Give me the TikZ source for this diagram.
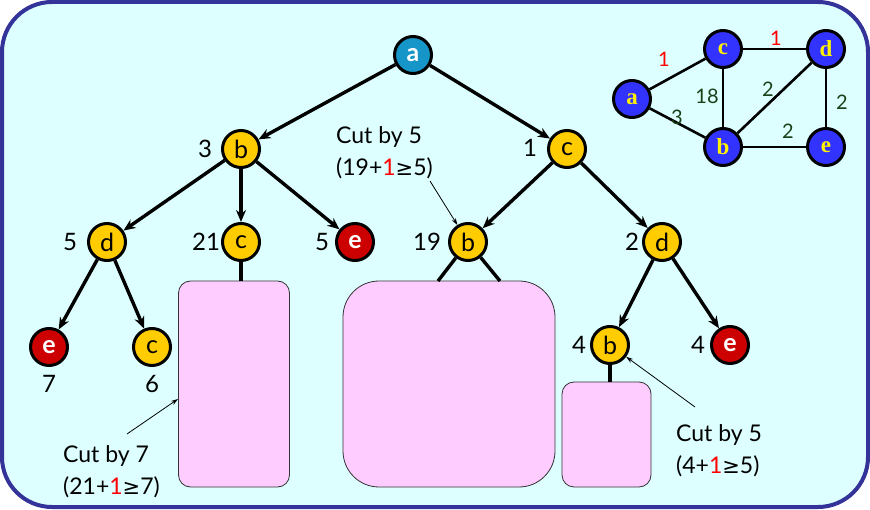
\documentclass[tikz,border=0pt]{standalone}
\usepackage{fontspec}
\setmainfont{Lato}
\newfontfamily\symf{DejaVu Sans}
\newfontfamily\serifb{Liberation Serif}
\usetikzlibrary{arrows.meta}
\definecolor{bgc}{RGB}{221,255,255}
\definecolor{framec}{RGB}{51,51,153}
\definecolor{yel}{RGB}{255,204,0}
\definecolor{redn}{RGB}{204,0,0}
\definecolor{tealn}{RGB}{22,150,200}
\definecolor{bluen}{RGB}{51,51,255}
\definecolor{pinkc}{RGB}{255,204,255}
\definecolor{dgreen}{RGB}{25,65,25}
\tikzset{
  tnode/.style={circle, draw=black, line width=3pt, minimum size=37pt, inner sep=0pt, font=\fontsize{25}{25}\selectfont},
  ynode/.style={tnode, fill=yel, text=black},
  rnode/.style={tnode, fill=redn, text=white, font=\fontsize{25}{25}\selectfont\bfseries},
  anode/.style={tnode, fill=tealn, text=white, font=\fontsize{25}{25}\selectfont\bfseries},
  gnode/.style={circle, draw=black, line width=3pt, minimum size=37pt, inner sep=0pt, fill=bluen, text=yellow, font=\fontsize{23}{23}\selectfont\serifb\bfseries},
  num/.style={inner sep=0pt, font=\fontsize{24}{24}\selectfont},
  tarrow/.style={line width=3.4pt, -{Stealth[length=12pt,width=10pt]}},
  tline/.style={line width=3.4pt},
  gedge/.style={line width=2.6pt},
  wlbl/.style={inner sep=0pt, font=\fontsize{20}{20}\selectfont, text=dgreen},
  rlbl/.style={inner sep=0pt, font=\fontsize{20}{20}\selectfont, text=red},
  pinkbox/.style={draw=black!80, line width=0.8pt, fill=pinkc},
  note/.style={inner sep=0pt, align=left, anchor=west, font=\fontsize{23}{32}\selectfont},
  thin/.style={line width=0.8pt, -{Stealth[length=7pt,width=4.5pt]}}
}
\begin{document}
\begin{tikzpicture}[x=1pt,y=-1pt]
\fill[white] (0,0) rectangle (870,510);
\useasboundingbox (0,0) rectangle (870,510);
\draw[line width=4pt, draw=framec, fill=bgc, rounded corners=50pt] (2,2) rectangle (868,507);

% pink boxes
\node[pinkbox, rounded corners=12pt, minimum width=111pt, minimum height=206pt, inner sep=0pt] (box1) at (234,384) {};
\node[pinkbox, rounded corners=36pt, minimum width=212pt, minimum height=206pt, inner sep=0pt] (box2) at (449,384) {};
\node[pinkbox, rounded corners=12pt, minimum width=89pt, minimum height=105pt, inner sep=0pt] (box3) at (606.5,434.5) {};

% tree nodes
\node[anode] (ra) at (413,55) {a};
\node[ynode] (tb) at (241,149) {b};
\node[ynode] (tc) at (567,149) {c};
\node[ynode] (td) at (107,242) {d};
\node[ynode] (tc21) at (241,242) {c};
\node[rnode] (te5) at (355,242) {e};
\node[ynode] (tb19) at (468,242) {b};
\node[ynode] (td2) at (662,242) {d};
\node[rnode] (te7) at (49,347) {e};
\node[ynode] (tc6) at (152,347) {c};
\node[ynode] (tb4) at (610,345) {b};
\node[rnode] (te4) at (730,345) {e};

% numbers
\node[num] (n3) at (205,149) {3};
\node[num] (n1) at (530,148) {1};
\node[num] (n5d) at (70,242) {5};
\node[num] (n21) at (206,242) {21};
\node[num] (n5e) at (322,242) {5};
\node[num] (n19) at (427,242) {19};
\node[num] (n2) at (632,242) {2};
\node[num] (n4b) at (579,345) {4};
\node[num] (n4e) at (698,345) {4};
\node[num] (n7) at (49,384) {7};
\node[num] (n6) at (152,384) {6};

% tree arrows
\draw[tarrow] (ra) -- (tb);
\draw[tarrow] (ra) -- (tc);
\draw[tarrow] (tb) -- (td);
\draw[tarrow] (tb) -- (tc21);
\draw[tarrow] (tb) -- (te5);
\draw[tarrow] (tc) -- (tb19);
\draw[tarrow] (tc) -- (td2);
\draw[tarrow] (td) -- (te7);
\draw[tarrow] (td) -- (tc6);
\draw[tarrow] (td2) -- (tb4);
\draw[tarrow] (td2) -- (te4);

% connectors to boxes
\coordinate (p1) at (438,281);
\coordinate (p2) at (500,281);
\draw[tline] (tc21) -- (tc21 |- box1.north);
\draw[tline] (tb19) -- (p1);
\draw[tline] (tb19) -- (p2);
\draw[tline] (tb4) -- (tb4 |- box3.north);

% notes
\node[note] (cut19) at (336,153) {Cut by 5\\(19+{\color{red}1}{\symf\fontsize{21}{32}\selectfont ≥}5)};
\node[note] (cut21) at (63,472) {Cut by 7\\(21+{\color{red}1}{\symf\fontsize{21}{32}\selectfont ≥}7)};
\node[note] (cut4) at (676,451) {Cut by 5\\(4+{\color{red}1}{\symf\fontsize{21}{32}\selectfont ≥}5)};
\coordinate (q1) at (430,181);
\coordinate (q2) at (127,434);
\coordinate (q3) at (695,407);
\coordinate (r2) at (178,399);
\draw[thin] (q1) -- (tb19);
\draw[thin] (q2) -- (r2);
\draw[thin] (q3) -- (tb4);

% small graph
\node[gnode] (ga) at (632,99) {a};
\node[gnode] (gc) at (723,49) {c};
\node[gnode] (gd) at (826,49) {d};
\node[gnode] (gb) at (723,147) {b};
\node[gnode] (ge) at (826,147) {e};
\draw[gedge] (ga) -- (gc);
\draw[gedge] (ga) -- (gb);
\draw[gedge] (gc) -- (gd);
\draw[gedge] (gc) -- (gb);
\draw[gedge] (gb) -- (gd);
\draw[gedge] (gb) -- (ge);
\draw[gedge] (gd) -- (ge);
\node[rlbl] (w1) at (664,59) {1};
\node[rlbl] (w2) at (776,38) {1};
\node[wlbl] (w3) at (707,96) {18};
\node[wlbl] (w4) at (768,89) {2};
\node[wlbl] (w5) at (677,117) {3};
\node[wlbl] (w6) at (788,131) {2};
\node[wlbl] (w7) at (842,102) {2};
\end{tikzpicture}
\end{document}
